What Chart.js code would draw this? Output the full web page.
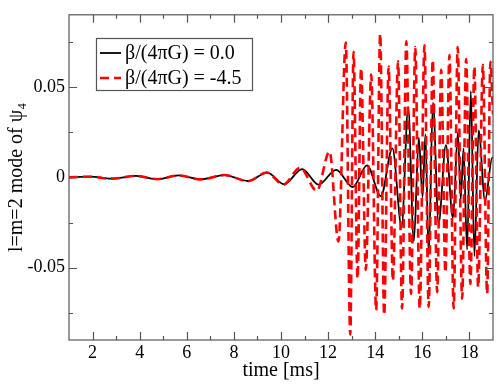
<!DOCTYPE html>
<html>
<head>
<meta charset="utf-8">
<script src="https://cdn.jsdelivr.net/npm/chart.js@4"></script>
<style>
  body { margin: 0; background: #fff; }
  #chartDiv { width: 500px; height: 386px; }
</style>
</head>
<body>
<div id="chartDiv"><canvas id="myChart" width="500" height="386"></canvas></div>
<script>
// peaks and troughs (time in ms)
const blackTime = [1.0, 1.9, 2.8, 3.85, 4.75, 5.65, 6.6, 7.6, 8.6, 9.42, 10.13, 10.9, 11.59, 12.34, 13.05, 13.65,
    14.24, 14.73, 15.12, 15.4, 15.64, 15.85, 16.01, 16.13, 16.27, 16.45, 16.69, 17.0, 17.3, 17.51, 17.63, 17.75,
    17.9, 18.06, 18.21, 18.39, 18.66, 18.97, 19.0];
const blackValue = [0.0, 0.0004, -0.0007, 0.0008, -0.0010, 0.0011, -0.0011, 0.0013, -0.0020, 0.0026, -0.0038, 0.0046, -0.0040, 0.0042, -0.0053, 0.0067,
    -0.0104, 0.0161, -0.0273, 0.0387, -0.0355, 0.0220, -0.0110, 0.0240, -0.0430, 0.0414, -0.0255, 0.0179, -0.0225, 0.0250, -0.0120, 0.0160,
    -0.0400, 0.0478, -0.0436, 0.0260, -0.0129, 0.0110, 0.0105];

const redTime = [1.0, 1.9, 2.8, 3.85, 4.75, 5.65, 6.6, 7.6, 8.6, 9.4, 10.1, 10.81, 11.52, 12.06, 12.44, 12.75,
    12.94, 13.08, 13.25, 13.4, 13.6, 13.83, 14.04, 14.21, 14.38, 14.57, 14.75, 14.97, 15.14, 15.32, 15.52, 15.7,
    15.89, 16.09, 16.27, 16.44, 16.63, 16.8, 16.98, 17.15, 17.33, 17.5, 17.69, 17.86, 18.04, 18.21, 18.37, 18.57,
    18.75, 18.89, 19.0];
const redValue = [0.0, 0.0004, -0.0007, 0.0008, -0.0010, 0.0011, -0.0011, 0.0013, -0.0021, 0.0027, -0.0040, 0.0053, -0.0074, 0.0143, -0.0355, 0.0746,
    -0.0870, 0.0695, -0.0560, 0.0605, -0.0512, 0.0569, -0.0735, 0.0795, -0.0762, 0.0614, -0.0572, 0.0642, -0.0726, 0.0753, -0.0645, 0.0722,
    -0.0726, 0.0731, -0.0717, 0.0650, -0.0635, 0.0596, -0.0527, 0.0677, -0.0726, 0.0722, -0.0672, 0.0655, -0.0590, 0.0614, -0.0608, 0.0623,
    -0.0645, 0.0640, 0.0350];

const seriesNames = ["β/(4πG) = 0.0", "β/(4πG) = -4.5"];

const xMajor = [2, 4, 6, 8, 10, 12, 14, 16, 18];
const xMinor = [3, 5, 7, 9, 11, 13, 15, 17];
const yMajor = [-0.05, 0, 0.05];
const yMinor = [-0.075, -0.025, 0.025, 0.075];

const serif = '"Liberation Serif", "DejaVu Serif", serif';

function toPoints(ts, vs) {
    return ts.map((t, i) => ({ x: t, y: vs[i] }));
}

// frame plus inward ticks on all four sides
const frameTicks = {
    id: "frameTicks",
    afterDatasetsDraw(chart) {
        const ctx = chart.ctx;
        const a = chart.chartArea;
        const xs = chart.scales.x;
        const ys = chart.scales.y;
        ctx.save();
        ctx.strokeStyle = "#555";
        ctx.lineWidth = 1.2;
        ctx.strokeRect(a.left, a.top, a.right - a.left, a.bottom - a.top);
        ctx.beginPath();
        const xt = (vals, len) => {
            vals.forEach(v => {
                const px = Math.round(xs.getPixelForValue(v)) + 0.5;
                ctx.moveTo(px, a.bottom); ctx.lineTo(px, a.bottom - len);
                ctx.moveTo(px, a.top); ctx.lineTo(px, a.top + len);
            });
        };
        const yt = (vals, len) => {
            vals.forEach(v => {
                const py = Math.round(ys.getPixelForValue(v)) + 0.5;
                ctx.moveTo(a.left, py); ctx.lineTo(a.left + len, py);
                ctx.moveTo(a.right, py); ctx.lineTo(a.right - len, py);
            });
        };
        xt(xMajor, 8); xt(xMinor, 4);
        yt(yMajor, 8); yt(yMinor, 4);
        ctx.stroke();
        ctx.restore();
    }
};

// boxed legend in the upper left corner
const boxLegend = {
    id: "boxLegend",
    afterDraw(chart) {
        const ctx = chart.ctx;
        ctx.save();
        ctx.fillStyle = "#fff";
        ctx.fillRect(96, 38, 156, 52);
        ctx.strokeStyle = "#555";
        ctx.lineWidth = 1.2;
        ctx.strokeRect(96.5, 38.5, 156, 52);
        chart.data.datasets.forEach((ds, i) => {
            const y = 53 + i * 25;
            ctx.beginPath();
            ctx.strokeStyle = ds.borderColor;
            ctx.lineWidth = ds.borderWidth;
            ctx.setLineDash(ds.borderDash || []);
            ctx.moveTo(100, y);
            ctx.lineTo(121, y);
            ctx.stroke();
            ctx.setLineDash([]);
            ctx.fillStyle = "#000";
            ctx.font = "20px " + serif;
            ctx.textBaseline = "middle";
            ctx.fillText(ds.label, 125, y + 1);
        });
        ctx.restore();
    }
};

new Chart(document.getElementById("myChart"), {
    type: "line",
    data: {
        datasets: [
            {
                label: seriesNames[0],
                data: toPoints(blackTime, blackValue),
                borderColor: "#000000",
                borderWidth: 1.8,
                pointRadius: 0,
                cubicInterpolationMode: "monotone",
                order: 1
            },
            {
                label: seriesNames[1],
                data: toPoints(redTime, redValue),
                borderColor: "#ff0000",
                borderWidth: 2.6,
                borderDash: [9, 5],
                pointRadius: 0,
                cubicInterpolationMode: "monotone",
                order: 0
            }
        ]
    },
    options: {
        responsive: false,
        animation: false,
        layout: { padding: { top: 7, right: 7, left: 0, bottom: 0 } },
        plugins: { legend: { display: false }, tooltip: { enabled: false } },
        scales: {
            x: {
                type: "linear",
                min: 1,
                max: 19,
                grid: { display: false, drawTicks: false },
                border: { display: false },
                afterBuildTicks: s => { s.ticks = xMajor.map(v => ({ value: v })); },
                afterFit: s => { s.height = 46; },
                ticks: { color: "#000", font: { family: serif, size: 18 }, padding: 2, maxRotation: 0 },
                title: { display: true, text: "time [ms]", color: "#000", font: { family: serif, size: 20 }, padding: { top: 0, bottom: 3 } }
            },
            y: {
                min: -0.09,
                max: 0.09,
                grid: { display: false, drawTicks: false },
                border: { display: false },
                afterBuildTicks: s => { s.ticks = yMajor.map(v => ({ value: v })); },
                afterFit: s => { s.width = 69; },
                ticks: {
                    color: "#000",
                    font: { family: serif, size: 18 },
                    padding: 4,
                    callback: v => (v === 0 ? "0" : v.toFixed(2))
                },
                title: { display: true, text: "l=m=2 mode of ψ₄", color: "#000", font: { family: serif, size: 20 }, padding: { top: 5, bottom: 0 } }
            }
        }
    },
    plugins: [frameTicks, boxLegend]
});
</script>
</body>
</html>
